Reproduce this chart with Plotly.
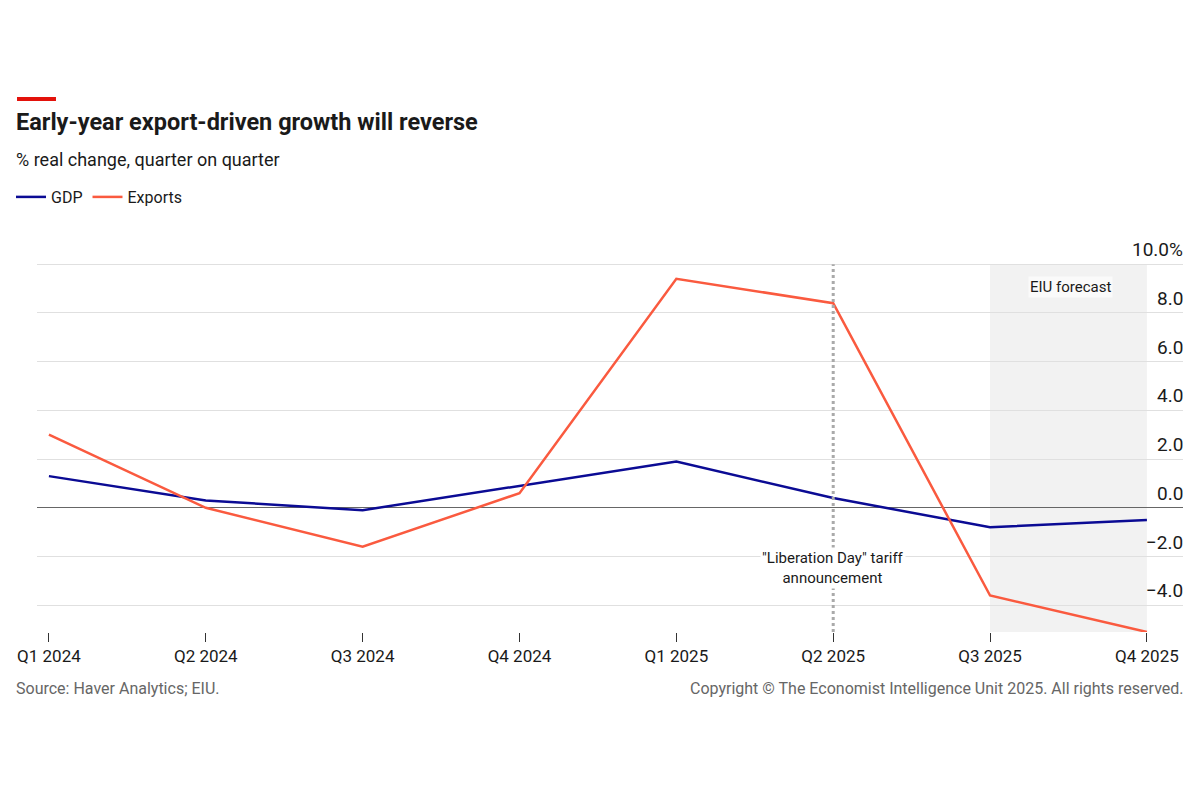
import plotly.graph_objects as go

quarters = ["Q1 2024", "Q2 2024", "Q3 2024", "Q4 2024", "Q1 2025", "Q2 2025", "Q3 2025", "Q4 2025"]
gdp = [1.3, 0.3, -0.1, 0.9, 1.9, 0.4, -0.8, -0.5]
exports = [3.0, 0.0, -1.6, 0.6, 9.4, 8.4, -3.6, -5.1]
y_ticks = [-4, -2, 0, 2, 4, 6, 8, 10]
y_ticktext = ["\u22124.0", "\u22122.0", "0.0", "2.0", "4.0", "6.0", "8.0", "10.0%"]

FONT = "Roboto, sans-serif"
x_idx = list(range(len(quarters)))

fig = go.Figure()
fig.add_trace(go.Scatter(x=x_idx, y=gdp, mode="lines", name="GDP",
                         line=dict(color="#0b0b94", width=2.5)))
fig.add_trace(go.Scatter(x=x_idx, y=exports, mode="lines", name="Exports",
                         line=dict(color="#fa5a3f", width=2.5)))

L, R, T, B = 36, 17, 263, 168
W, H = 1200, 800
pw, ph = W - L - R, H - T - B
def px(p): return (p - L) / pw
def py(p): return (H - B - p) / ph

fig.update_layout(
    width=W, height=H,
    margin=dict(l=L, r=R, t=T, b=B),
    paper_bgcolor="white", plot_bgcolor="white",
    font=dict(family=FONT, color="#1a1a1a"),
    showlegend=True,
    legend=dict(orientation="h", x=px(11), y=py(197), xanchor="left", yanchor="middle",
                font=dict(size=16, color="#1a1a1a"), itemwidth=30, bgcolor="rgba(0,0,0,0)"),
    xaxis=dict(range=[-0.076, 7.23], tickvals=x_idx, ticktext=quarters,
               showgrid=False, zeroline=False, showline=False,
               ticks="outside", ticklen=9, tickcolor="#333", tickwidth=1.2,
               tickfont=dict(size=17, color="#1a1a1a")),
    yaxis=dict(range=[-5.1, 10.05], side="right", tickvals=y_ticks,
               showticklabels=False, showgrid=True, gridcolor="#e0e0e0", gridwidth=1,
               zeroline=True, zerolinecolor="#666", zerolinewidth=1.2, showline=False,
               ticks=""),
)

for v, t in zip(y_ticks, y_ticktext):
    fig.add_annotation(xref="paper", yref="y", x=1, y=v, xanchor="right", yanchor="bottom",
                       text=t, showarrow=False, xshift=2, yshift=1,
                       font=dict(size=19, color="#1a1a1a"))

fig.add_shape(type="rect", xref="x", yref="y", x0=6, x1=7, y0=-5.1, y1=10,
              fillcolor="#f2f2f2", line=dict(width=0), layer="below")
fig.add_shape(type="line", xref="x", yref="y", x0=5, x1=5, y0=-5.1, y1=10,
              line=dict(color="#aaaaaa", width=3, dash="dot"), layer="above")
fig.add_shape(type="rect", xref="paper", yref="paper", x0=px(16), x1=px(55),
              y0=py(101), y1=py(97), fillcolor="#e3120b", line=dict(width=0))

fig.add_annotation(xref="x", yref="y", x=6.51, y=9.07, text="EIU forecast", showarrow=False,
                   font=dict(size=15, color="#1a1a1a"), bgcolor="#fafafa", borderpad=1)
fig.add_annotation(xref="x", yref="y", x=5, y=-2.46,
                   text="\"Liberation Day\" tariff<br>announcement", showarrow=False,
                   font=dict(size=15, color="#1a1a1a"), bgcolor="white", borderpad=1,
                   align="center")

fig.add_annotation(xref="paper", yref="paper", x=px(16), y=py(122), xanchor="left", yanchor="middle",
                   text="<b>Early-year export-driven growth will reverse</b>", showarrow=False,
                   xshift=-3, font=dict(size=23.5, color="#1a1a1a"))
fig.add_annotation(xref="paper", yref="paper", x=px(16), y=py(160), xanchor="left", yanchor="middle",
                   text="% real change, quarter on quarter", showarrow=False,
                   xshift=-3, font=dict(size=18, color="#1a1a1a"))
fig.add_annotation(xref="paper", yref="paper", x=px(16), y=py(688), xanchor="left", yanchor="middle",
                   text="Source: Haver Analytics; EIU.", showarrow=False,
                   xshift=-3, font=dict(size=16, color="#666666"))
fig.add_annotation(xref="paper", yref="paper", x=1, y=py(688), xanchor="right", yanchor="middle",
                   text="Copyright \u00a9 The Economist Intelligence Unit 2025. All rights reserved.",
                   xshift=3, showarrow=False, font=dict(size=16, color="#666666"))

fig.write_html("out.html")
